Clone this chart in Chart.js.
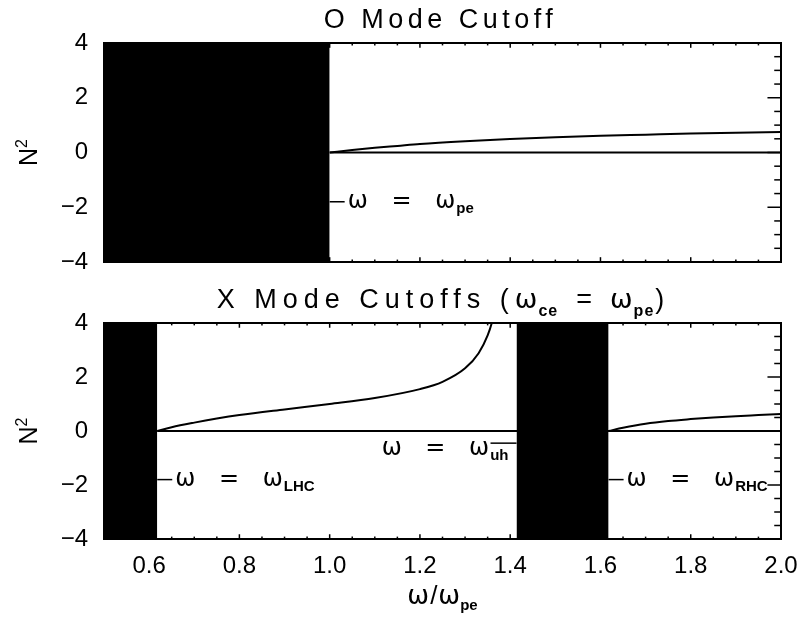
<!DOCTYPE html>
<html>
<head>
<meta charset="utf-8">
<script src="https://cdn.jsdelivr.net/npm/chart.js@4/dist/chart.umd.min.js"></script>
<style>
  html, body { margin: 0; padding: 0; background: #fff; }
  #wrap { position: relative; width: 803px; height: 619px; overflow: hidden; }
  canvas { position: absolute; left: 0; }
  #oChart { top: 0; }
  #xChart { top: 280px; }
</style>
</head>
<body>
<div id="wrap">
  <canvas id="oChart" width="803" height="280"></canvas>
  <canvas id="xChart" width="803" height="339"></canvas>
</div>
<script>
// Axis ranges and tick labels (frequency in units of the plasma frequency)
const omegaMin = 0.5;
const omegaMax = 2.0;
const n2Min = -4;
const n2Max = 4;
const xTickValues = [0.6, 0.8, 1.0, 1.2, 1.4, 1.6, 1.8, 2.0];
const yTickValues = [-4, -2, 0, 2, 4];

// O mode: cutoff at the plasma frequency
const oCutoff = 1.0;
const oOmega = [1.0, 1.05, 1.1, 1.15, 1.2, 1.3, 1.4, 1.5, 1.6, 1.7, 1.8, 1.9, 2.0];
const oN2    = [0.0, 0.09, 0.17, 0.24, 0.31, 0.41, 0.49, 0.56, 0.61, 0.65, 0.69, 0.72, 0.75];

// X mode (omega_ce = omega_pe): L cutoff, upper hybrid resonance, R cutoff
const lhcCutoff = 0.618;
const uhResonance = 1.414;
const rhcCutoff = 1.618;
const xLowOmega  = [0.618, 0.65, 0.7, 0.75, 0.8, 0.9, 1.0, 1.1, 1.2, 1.25, 1.3, 1.33, 1.35, 1.36, 1.37];
const xLowN2     = [0.0, 0.14, 0.31, 0.46, 0.59, 0.80, 1.0, 1.22, 1.55, 1.82, 2.32, 2.88, 3.54, 4.05, 4.8];
const xHighOmega = [1.618, 1.65, 1.7, 1.75, 1.8, 1.85, 1.9, 1.95, 2.0];
const xHighN2    = [0.0, 0.12, 0.27, 0.37, 0.44, 0.50, 0.55, 0.59, 0.63];

const MAIN = '"Liberation Sans", Arial, sans-serif';
const GREEK = '"DejaVu Sans", sans-serif';

const pts = (xs, ys) => xs.map((v, i) => ({ x: v, y: ys[i] }));

// Evanescent band: filled from the top of the axis down to its bottom
function band(from, to) {
  return {
    data: [{ x: from, y: n2Max }, { x: to, y: n2Max }],
    fill: { value: n2Min },
    backgroundColor: '#000',
    borderColor: '#000',
    borderWidth: 1,
    pointRadius: 0
  };
}
function curve(xs, ys) {
  return {
    data: pts(xs, ys),
    borderColor: '#000',
    borderWidth: 2,
    pointRadius: 0,
    fill: false,
    cubicInterpolationMode: 'monotone'
  };
}

// Draw a sequence of text runs (different fonts / offsets) on one line
function drawRuns(ctx, runs, x, y, align) {
  let total = 0;
  const widths = runs.map(r => {
    ctx.font = r.font;
    ctx.letterSpacing = (r.ls || 0) + 'px';
    const w = (r.pre || 0) + ctx.measureText(r.t).width + (r.post || 0);
    total += w;
    return w;
  });
  let cx = align === 'center' ? x - total / 2 : align === 'right' ? x - total : x;
  runs.forEach((r, i) => {
    ctx.font = r.font;
    ctx.letterSpacing = (r.ls || 0) + 'px';
    ctx.textAlign = 'left';
    ctx.fillText(r.t, cx + (r.pre || 0), y + (r.dy || 0));
    cx += widths[i];
  });
  ctx.letterSpacing = '0px';
}

function noteRuns(sub) {
  return [
    { t: 'ω = ', font: '24px ' + GREEK, ls: 8 },
    { t: 'ω', font: '24px ' + GREEK, ls: 1 },
    { t: sub, font: 'bold 15px ' + MAIN, dy: 5 }
  ];
}

// Frame with inward ticks, titles and cutoff annotations
const framePlugin = {
  id: 'frame',
  afterDatasetsDraw(chart, args, opts) {
    const { ctx, chartArea: a, scales: { x, y } } = chart;
    ctx.save();
    ctx.strokeStyle = '#000';
    ctx.lineWidth = 2;
    ctx.strokeRect(a.left, a.top, a.right - a.left, a.bottom - a.top);
    ctx.lineWidth = 1.5;
    const xLen = (a.bottom - a.top) * 0.022;
    const yLen = (a.right - a.left) * 0.02;
    const tick = (x1, y1, x2, y2) => { ctx.beginPath(); ctx.moveTo(x1, y1); ctx.lineTo(x2, y2); ctx.stroke(); };
    const nx = Math.round((omegaMax - omegaMin) / 0.05);
    for (let i = 0; i <= nx; i++) {
      const v = omegaMin + i * 0.05;
      const major = Math.abs(Math.round(v * 5) - v * 5) < 1e-6;
      const len = major ? xLen : xLen / 2;
      const px = x.getPixelForValue(v);
      tick(px, a.bottom, px, a.bottom - len);
      tick(px, a.top, px, a.top + len);
    }
    const ny = Math.round((n2Max - n2Min) / 0.5);
    for (let i = 0; i <= ny; i++) {
      const v = n2Min + i * 0.5;
      const major = Math.abs(v % 2) < 1e-6;
      const len = major ? yLen : yLen / 2;
      const py = y.getPixelForValue(v);
      tick(a.left, py, a.left + len, py);
      tick(a.right, py, a.right - len, py);
    }
    ctx.restore();
  },
  afterDraw(chart, args, opts) {
    const { ctx, chartArea: a, scales: { x, y } } = chart;
    ctx.save();
    ctx.fillStyle = '#000';
    ctx.strokeStyle = '#000';
    ctx.textBaseline = 'alphabetic';

    if (opts.title) drawRuns(ctx, opts.title, (a.left + a.right) / 2 - 2, a.top - 15, 'center');

    // N² axis title
    ctx.save();
    ctx.translate(37, (a.top + a.bottom) / 2);
    ctx.rotate(-Math.PI / 2);
    drawRuns(ctx, [
      { t: 'N', font: '25px ' + MAIN },
      { t: '2', font: '16px ' + MAIN, dy: -10 }
    ], 0, 0, 'center');
    ctx.restore();

    ctx.lineWidth = 1.5;
    (opts.notes || []).forEach(n => {
      const px = x.getPixelForValue(n.x);
      const py = y.getPixelForValue(n.y);
      ctx.beginPath();
      if (n.side === 'right') {
        ctx.moveTo(px, py); ctx.lineTo(px + 15, py); ctx.stroke();
        drawRuns(ctx, noteRuns(n.sub), px + 18, py + 6.5, 'left');
      } else {
        ctx.moveTo(px - 26, py); ctx.lineTo(px, py); ctx.stroke();
        drawRuns(ctx, noteRuns(n.sub), px - 8, py + 12, 'right');
      }
    });

    if (opts.xTitle) {
      drawRuns(ctx, [
        { t: 'ω', font: '26px ' + GREEK },
        { t: '/', font: '26px ' + MAIN, pre: 1, post: 1 },
        { t: 'ω', font: '26px ' + GREEK },
        { t: 'pe', font: 'bold 15px ' + MAIN, dy: 6 }
      ], (a.left + a.right) / 2, a.bottom + 65, 'center');
    }
    ctx.restore();
  }
};

function yLabel(v) { return v < 0 ? '\u2212' + Math.abs(v) : String(v); }

function makeOptions(showX, padBottom, frameOpts) {
  return {
    responsive: false,
    animation: false,
    events: [],
    layout: { padding: { top: 43, right: 22, bottom: padBottom, left: 0 } },
    plugins: {
      legend: { display: false },
      tooltip: { enabled: false },
      title: { display: false },
      frame: frameOpts
    },
    scales: {
      x: {
        type: 'linear',
        display: showX,
        min: omegaMin,
        max: omegaMax,
        grid: { display: false },
        border: { display: false },
        ticks: {
          color: '#000',
          padding: 5,
          font: { family: MAIN, size: 24 },
          callback: v => v.toFixed(1)
        },
        afterBuildTicks: s => { s.ticks = xTickValues.map(v => ({ value: v })); },
        afterFit: s => { s.height = showX ? 80 : 0; }
      },
      y: {
        type: 'linear',
        min: n2Min,
        max: n2Max,
        grid: { display: false },
        border: { display: false },
        ticks: {
          color: '#000',
          padding: 8,
          font: { family: MAIN, size: 24 },
          callback: v => yLabel(v)
        },
        afterBuildTicks: s => { s.ticks = yTickValues.map(v => ({ value: v })); },
        afterFit: s => { s.width = 104; s.paddingTop = 0; s.paddingBottom = 0; }
      }
    }
  };
}

const titleFont = '27px ' + MAIN;
const titleGreek = '27px ' + GREEK;
const subFont = 'bold 16px ' + MAIN;

new Chart(document.getElementById('oChart'), {
  type: 'line',
  data: {
    datasets: [
      band(omegaMin, oCutoff),
      curve(oOmega, oN2),
      curve([oCutoff, omegaMax], [0, 0])
    ]
  },
  options: makeOptions(false, 18, {
    title: [{ t: 'O Mode Cutoff', font: titleFont, ls: 4.5 }],
    notes: [{ x: oCutoff, y: -1.8, sub: 'pe', side: 'right' }],
    xTitle: false
  }),
  plugins: [framePlugin]
});

new Chart(document.getElementById('xChart'), {
  type: 'line',
  data: {
    datasets: [
      band(omegaMin, lhcCutoff),
      band(uhResonance, rhcCutoff),
      curve(xLowOmega, xLowN2),
      curve(xHighOmega, xHighN2),
      curve([lhcCutoff, omegaMax], [0, 0])
    ]
  },
  options: makeOptions(true, 0, {
    title: [
      { t: 'X Mode Cutoffs (', font: titleFont, ls: 6 },
      { t: 'ω', font: titleGreek, ls: 1 },
      { t: 'ce', font: subFont, dy: 8, ls: 1 },
      { t: '=', font: titleFont, pre: 18, post: 18 },
      { t: 'ω', font: titleGreek, ls: 1 },
      { t: 'pe', font: subFont, dy: 8, ls: 1 },
      { t: ')', font: titleFont, pre: 1 }
    ],
    notes: [
      { x: lhcCutoff, y: -1.8, sub: 'LHC', side: 'right' },
      { x: uhResonance, y: -0.45, sub: 'uh', side: 'left' },
      { x: rhcCutoff, y: -1.8, sub: 'RHC', side: 'right' }
    ],
    xTitle: true
  }),
  plugins: [framePlugin]
});
</script>
</body>
</html>
